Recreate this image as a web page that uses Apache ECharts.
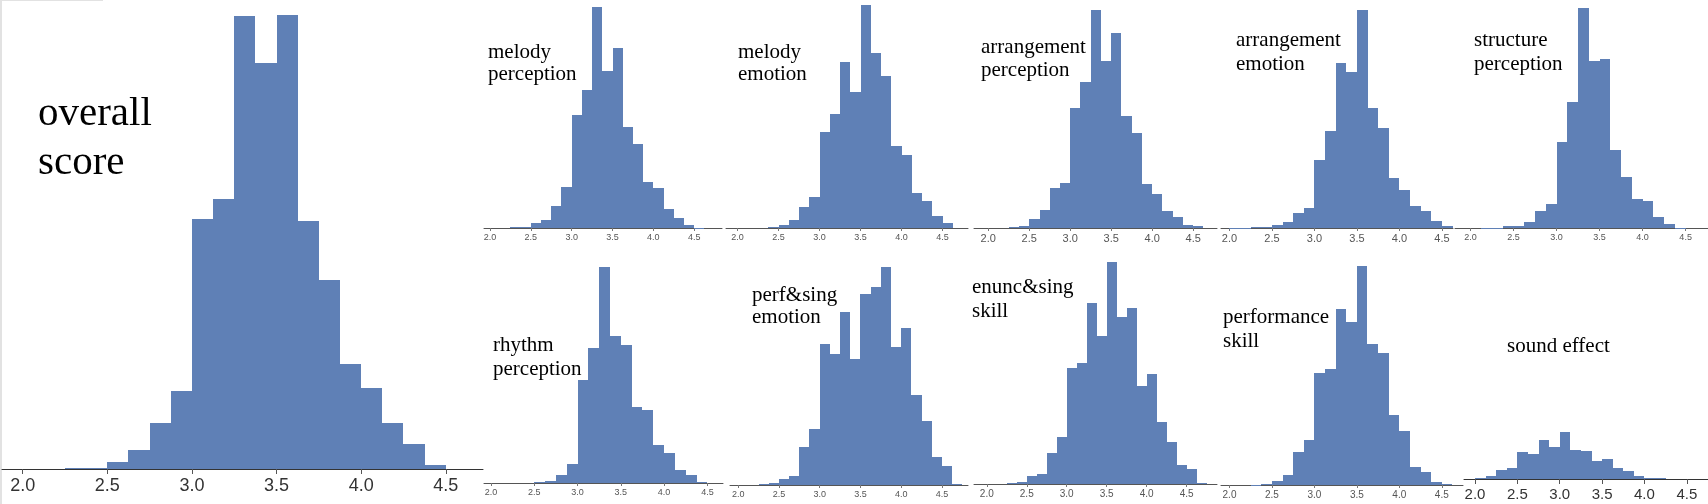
<!DOCTYPE html>
<html lang="en">

<head>
    <meta charset="UTF-8">
    <title>Score histograms</title>
    <style type="text/css">
        html, body { margin: 0; padding: 0; background: #fff; }
        #main {
            height: 504px;
            width: 1708px;
        }
    </style>
    <script src="https://cdn.jsdelivr.net/npm/echarts@6.0.0/dist/echarts.min.js"></script>
</head>

<body>
    <div id="main"></div>
    <script type="text/javascript">
        // lower edge of every bin (bin width 0.125)
        var binStarts = [2.0, 2.125, 2.25, 2.375, 2.5, 2.625, 2.75, 2.875, 3.0, 3.125, 3.25,
            3.375, 3.5, 3.625, 3.75, 3.875, 4.0, 4.125, 4.25, 4.375, 4.5, 4.625];
        var binWidth = 0.125;
        var tickValues = [2.0, 2.5, 3.0, 3.5, 4.0, 4.5];

        // counts per bin
        var overallScore = [0, 0, 3, 3, 20, 58, 138, 235, 749, 810, 1360, 1218, 1363, 743, 568, 315, 243, 137, 75, 13, 0, 0];
        var melodyPerception = [0, 0, 2, 2, 15, 25, 65, 123, 338, 414, 663, 472, 540, 303, 253, 139, 120, 57, 30, 10, 1, 0];
        var melodyEmotion = [0, 0, 0, 2, 9, 25, 62, 94, 288, 342, 498, 408, 668, 525, 457, 247, 219, 106, 81, 35, 15, 0];
        var arrangementPerception = [0, 0, 2, 5, 26, 54, 121, 136, 361, 438, 653, 502, 585, 336, 286, 132, 103, 51, 33, 10, 7, 0];
        var arrangementEmotion = [1, 1, 2, 2, 10, 18, 46, 61, 205, 291, 495, 467, 653, 359, 300, 151, 114, 66, 51, 20, 7, 0];
        var structurePerception = [0, 1, 1, 5, 7, 19, 51, 71, 258, 377, 660, 500, 508, 234, 152, 88, 80, 34, 11, 1, 0, 0];
        var rhythmPerception = [0, 0, 0, 0, 2, 5, 24, 57, 308, 405, 648, 440, 415, 228, 219, 115, 91, 40, 24, 3, 0, 0];
        var perfSingEmotion = [0, 0, 2, 6, 18, 26, 113, 168, 422, 392, 518, 378, 574, 594, 654, 414, 471, 270, 192, 84, 56, 2];
        var enuncSingSkill = [0, 0, 2, 6, 24, 30, 92, 141, 348, 363, 543, 445, 665, 501, 528, 293, 330, 185, 126, 58, 45, 3];
        var performanceSkill = [0, 0, 1, 2, 12, 30, 99, 136, 337, 349, 528, 490, 658, 422, 396, 211, 163, 55, 39, 9, 4, 0];
        var soundEffect = [3, 8, 28, 33, 81, 76, 116, 96, 142, 86, 84, 53, 59, 33, 23, 8, 4, 2, 0, 0, 0, 0];

        // panel placement: grid box in px, x range, label size, title box
        var panels = [
            { counts: overallScore, title: 'overall\nscore', left: 2, right: 483, top: 0, bottom: 469, yMax: 1407, xMin: 1.878, xMax: 4.72, labelSize: 18, big: true, tx: 38, ty: 90, tSize: 41, tLine: 49 },
            { counts: melodyPerception, title: 'melody\nperception', left: 484, right: 722, top: 0, bottom: 228, yMax: 684, xMin: 1.927, xMax: 4.84, labelSize: 9, tx: 488, ty: 41, tSize: 21, tLine: 22.5 },
            { counts: melodyEmotion, title: 'melody\nemotion', left: 726, right: 968, top: 0, bottom: 228, yMax: 684, xMin: 1.86, xMax: 4.81, labelSize: 9, tx: 738, ty: 41, tSize: 21, tLine: 22.5 },
            { counts: arrangementPerception, title: 'arrangement\nperception', left: 974, right: 1217, top: 0, bottom: 228, yMax: 684, xMin: 1.826, xMax: 4.79, labelSize: 11, tx: 981, ty: 36, tSize: 21, tLine: 23 },
            { counts: arrangementEmotion, title: 'arrangement\nemotion', left: 1221, right: 1453, top: 0, bottom: 228, yMax: 684, xMin: 1.9, xMax: 4.63, labelSize: 11, tx: 1236, ty: 28, tSize: 21, tLine: 24.5 },
            { counts: structurePerception, title: 'structure\nperception', left: 1455, right: 1708, top: 0, bottom: 228, yMax: 684, xMin: 1.82, xMax: 4.76, labelSize: 9, tx: 1474, ty: 28, tSize: 21, tLine: 24.5 },
            { counts: rhythmPerception, title: 'rhythm\nperception', left: 484, right: 723, top: 250, bottom: 483, yMax: 699, xMin: 1.92, xMax: 4.68, labelSize: 9, tx: 493, ty: 334, tSize: 21, tLine: 23.5 },
            { counts: perfSingEmotion, title: 'perf&sing\nemotion', left: 730, right: 968, top: 250, bottom: 485, yMax: 705, xMin: 1.9, xMax: 4.82, labelSize: 9, tx: 752, ty: 284, tSize: 21, tLine: 22.5 },
            { counts: enuncSingSkill, title: 'enunc&sing\nskill', left: 974, right: 1217, top: 250, bottom: 484, yMax: 702, xMin: 1.84, xMax: 4.88, labelSize: 10, tx: 972, ty: 275, tSize: 21, tLine: 24 },
            { counts: performanceSkill, title: 'performance\nskill', left: 1221, right: 1463, top: 250, bottom: 485, yMax: 705, xMin: 1.9, xMax: 4.75, labelSize: 10, tx: 1223, ty: 305, tSize: 21, tLine: 24 },
            { counts: soundEffect, title: 'sound effect', left: 1464, right: 1708, top: 250, bottom: 479, yMax: 687, xMin: 1.87, xMax: 4.75, labelSize: 15, big: true, tx: 1507, ty: 334, tSize: 21, tLine: 24 }
        ];

        var barColor = '#5f80b6';

        function renderBin(params, api) {
            var p0 = api.coord([api.value(0), 0]);
            var p1 = api.coord([api.value(1), api.value(2)]);
            var x0 = Math.round(p0[0]), x1 = Math.round(p1[0]);
            var yTop = Math.round(p1[1]), yBase = Math.round(p0[1]);
            return {
                type: 'rect',
                shape: { x: x0, y: yTop, width: x1 - x0, height: Math.max(yBase - yTop, 1) },
                style: { fill: barColor }
            };
        }

        var grids = [], xAxes = [], yAxes = [], series = [], graphics = [];
        panels.forEach(function (p, i) {
            grids.push({
                left: p.left, top: p.top, width: p.right - p.left, height: p.bottom - p.top,
                containLabel: false, outerBoundsMode: 'none'
            });
            xAxes.push({
                type: 'value', gridIndex: i, min: p.xMin, max: p.xMax,
                splitLine: { show: false },
                axisLine: { show: true, lineStyle: { color: p.big ? '#333' : '#555', width: 1 } },
                axisTick: { show: true, customValues: tickValues, length: p.big ? 5 : 3, lineStyle: { color: p.big ? '#555' : '#777' } },
                axisLabel: {
                    customValues: tickValues, fontSize: p.labelSize, margin: p.big ? 8 : 5,
                    color: p.big ? '#333' : '#555', fontFamily: 'Liberation Sans',
                    formatter: function (v) { return v.toFixed(1); }
                }
            });
            yAxes.push({ type: 'value', gridIndex: i, min: 0, max: p.yMax, show: false });
            var items = [];
            p.counts.forEach(function (c, k) {
                if (c > 0) items.push([binStarts[k], binStarts[k] + binWidth, c]);
            });
            series.push({
                type: 'custom', xAxisIndex: i, yAxisIndex: i, silent: true,
                renderItem: renderBin, encode: { x: [0, 1], y: 2 }, data: items, z: 2
            });
            graphics.push({
                type: 'text', left: p.tx, top: p.ty, z: 10,
                style: {
                    text: p.title, fontSize: p.tSize, lineHeight: p.tLine,
                    fontFamily: '"Liberation Serif", "Times New Roman", serif', fill: '#000'
                }
            });
        });
        // thin grey frame edge at the left of the screenshot
        graphics.push({ type: 'rect', left: 0, top: 0, shape: { width: 2, height: 504 }, style: { fill: '#e2e2e2' } });
        graphics.push({ type: 'rect', left: 0, top: 0, shape: { width: 103, height: 1 }, style: { fill: '#e2e2e2' } });

        var myChart = echarts.init(document.getElementById('main'));
        myChart.setOption({
            animation: false,
            grid: grids,
            xAxis: xAxes,
            yAxis: yAxes,
            series: series,
            graphic: graphics
        });
    </script>
</body>

</html>
